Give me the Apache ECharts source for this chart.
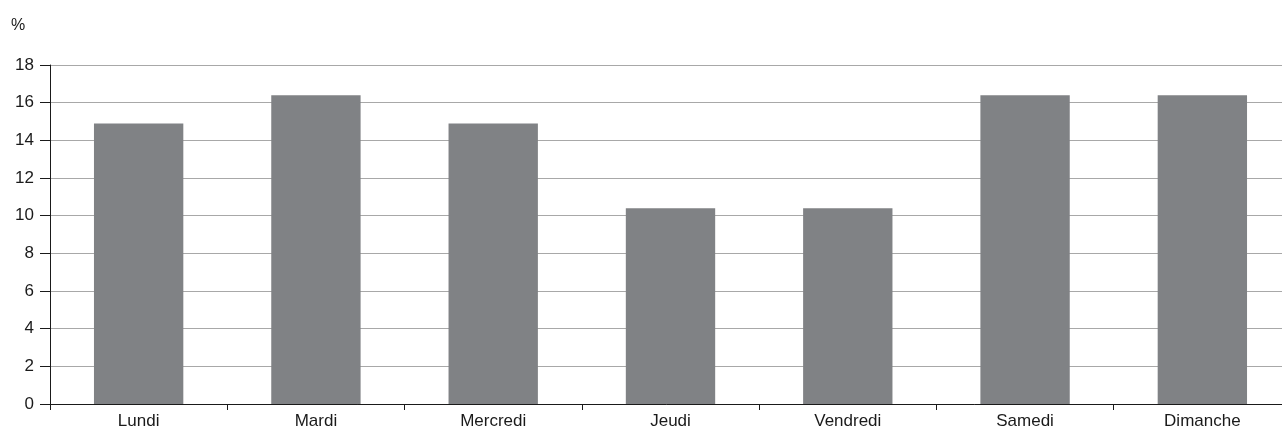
<!DOCTYPE html>
<html><head><meta charset="utf-8">
<script src="https://cdn.jsdelivr.net/npm/echarts@6/dist/echarts.min.js"></script>
<style>html,body{margin:0;padding:0;background:#fff}#c{width:1282px;height:432px}</style>
</head><body><div id="c"></div>
<script>
const categories = ["Lundi","Mardi","Mercredi","Jeudi","Vendredi","Samedi","Dimanche"];
const values = [14.9, 16.4, 14.9, 10.4, 10.4, 16.4, 16.4];
const unitLabel = "%";
const FONT = "'Liberation Sans Narrow','Liberation Sans',sans-serif";
const chart = echarts.init(document.getElementById('c'));
chart.setOption({
  animation: false,
  textStyle: {fontFamily: FONT},
  grid: {left: 50, width: 1241, top: 65, bottom: 28, containLabel: false, outerBoundsMode: 'none'},
  graphic: [{type: 'text', left: 11, top: 18, style: {text: unitLabel, font: "16px " + FONT, fill: '#1a1a1a'}}],
  xAxis: {
    type: 'category', data: categories,
    axisLine: {lineStyle: {color: '#1a1a1a', width: 1}},
    axisTick: {show: true, length: 6, lineStyle: {color: '#1a1a1a'}},
    axisLabel: {color: '#1a1a1a', fontSize: 17, fontFamily: FONT, margin: 9}
  },
  yAxis: {
    type: 'value', min: 0, max: 18, interval: 2,
    axisLine: {show: true, lineStyle: {color: '#1a1a1a', width: 1}},
    axisTick: {show: true, length: 10, lineStyle: {color: '#1a1a1a'}},
    axisLabel: {color: '#1a1a1a', fontSize: 17, fontFamily: FONT, margin: 16},
    splitLine: {lineStyle: {color: '#a8a8a8', width: 1.2}}
  },
  series: [{type: 'bar', data: values, barWidth: '50.4%', itemStyle: {color: '#808285'}}]
});
</script></body></html>
